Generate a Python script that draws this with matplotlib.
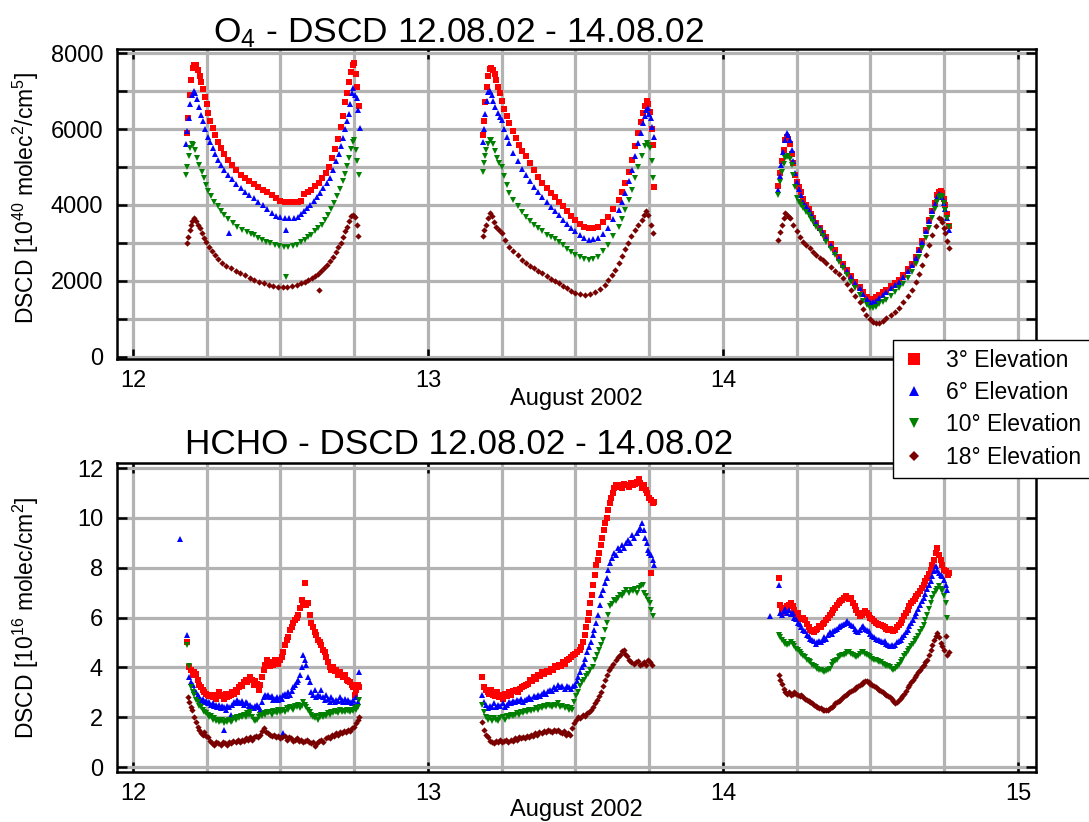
import numpy as np
import matplotlib.pyplot as plt
from matplotlib.lines import Line2D
from matplotlib.ticker import MultipleLocator, NullLocator

plt.rcParams['font.family'] = ['Liberation Sans', 'DejaVu Sans']
plt.rcParams['mathtext.default'] = 'regular'

labels = ['3° Elevation', '6° Elevation', '10° Elevation', '18° Elevation']
colors = ['#ff0000', '#0000ff', '#008000', '#7a0000']
markers = ['s', '^', 'v', 'D']
day_ticks = [12, 13, 14, 15]

# O4 DSCD, (day of August 2002, 1e40 molec^2/cm^5)
o4_3deg = [
    (12.183, 5900), (12.188, 6300), (12.193, 6900), (12.198, 7300), (12.203, 7600), (12.208, 7700),
    (12.214, 7680), (12.220, 7550), (12.226, 7400), (12.232, 7250), (12.238, 7050), (12.244, 6850),
    (12.250, 6650), (12.256, 6420), (12.263, 6200), (12.270, 6020), (12.278, 5850), (12.287, 5670),
    (12.297, 5500), (12.309, 5350), (12.321, 5190), (12.335, 5050), (12.350, 4920), (12.365, 4790),
    (12.380, 4700), (12.395, 4620), (12.410, 4550), (12.425, 4480), (12.440, 4400), (12.455, 4330),
    (12.470, 4260), (12.485, 4190), (12.500, 4110), (12.515, 4080), (12.530, 4070), (12.545, 4070),
    (12.558, 4080), (12.570, 4100), (12.580, 4300), (12.592, 4330), (12.605, 4400), (12.618, 4500),
    (12.630, 4580), (12.642, 4700), (12.654, 4850), (12.665, 5000), (12.676, 5250), (12.686, 5480),
    (12.695, 5750), (12.704, 6050), (12.712, 6350), (12.720, 6700), (12.727, 6950), (12.734, 7250),
    (12.740, 7500), (12.745, 7700), (12.750, 7750), (12.755, 7450), (12.760, 7100), (12.765, 6600),
    (13.186, 5850), (13.190, 6200), (13.195, 6700), (13.200, 7100), (13.205, 7400), (13.210, 7580),
    (13.215, 7620), (13.220, 7560), (13.226, 7450), (13.232, 7300), (13.238, 7120), (13.244, 6950),
    (13.250, 6750), (13.258, 6530), (13.267, 6340), (13.276, 6160), (13.287, 5950), (13.298, 5760),
    (13.309, 5580), (13.320, 5420), (13.332, 5280), (13.346, 5100), (13.360, 4920), (13.374, 4740),
    (13.388, 4570), (13.402, 4440), (13.416, 4320), (13.430, 4200), (13.444, 4090), (13.458, 3960),
    (13.472, 3840), (13.486, 3720), (13.500, 3600), (13.515, 3500), (13.530, 3430), (13.545, 3390),
    (13.561, 3400), (13.578, 3430), (13.595, 3540), (13.612, 3690), (13.629, 3900), (13.646, 4130),
    (13.657, 4340), (13.668, 4570), (13.680, 4880), (13.691, 5190), (13.702, 5540), (13.713, 5890),
    (13.722, 6180), (13.730, 6420), (13.736, 6600), (13.741, 6730), (13.747, 6650), (13.752, 6460),
    (13.758, 6000), (13.763, 5580), (13.765, 4480),
    (14.188, 4500), (14.194, 4850), (14.200, 5150), (14.206, 5450), (14.211, 5700), (14.216, 5800),
    (14.222, 5750), (14.228, 5600), (14.234, 5350), (14.239, 5100), (14.245, 4800), (14.251, 4600),
    (14.258, 4480), (14.265, 4350), (14.272, 4150), (14.281, 4000), (14.290, 3880), (14.298, 3760),
    (14.306, 3650), (14.317, 3530), (14.328, 3400), (14.340, 3270), (14.351, 3150), (14.365, 2980),
    (14.379, 2800), (14.393, 2620), (14.407, 2450), (14.421, 2290), (14.435, 2130), (14.449, 1980),
    (14.463, 1830), (14.475, 1700), (14.488, 1580), (14.500, 1520), (14.510, 1530), (14.519, 1570),
    (14.530, 1630), (14.541, 1700), (14.553, 1760), (14.568, 1860), (14.583, 1950), (14.598, 2030),
    (14.612, 2150), (14.627, 2300), (14.642, 2450), (14.653, 2620), (14.665, 2820), (14.676, 3050),
    (14.687, 3330), (14.699, 3600), (14.710, 3850), (14.718, 4050), (14.726, 4250), (14.732, 4350),
    (14.738, 4380), (14.743, 4320), (14.749, 4150), (14.754, 4000), (14.760, 3750), (14.766, 3450),
]

o4_6deg = [
    (12.180, 5600), (12.185, 5950), (12.190, 6300), (12.195, 6650), (12.200, 6900), (12.206, 7000),
    (12.212, 6950), (12.218, 6780), (12.224, 6580), (12.231, 6380), (12.238, 6200), (12.245, 6000),
    (12.253, 5800), (12.261, 5650), (12.270, 5500), (12.278, 5340), (12.287, 5190), (12.298, 5050),
    (12.310, 4920), (12.321, 4790), (12.335, 4680), (12.350, 4560), (12.365, 4440), (12.380, 4350),
    (12.395, 4260), (12.410, 4170), (12.425, 4080), (12.440, 3990), (12.455, 3900), (12.470, 3800),
    (12.485, 3720), (12.500, 3670), (12.515, 3650), (12.530, 3650), (12.545, 3660), (12.558, 3690),
    (12.570, 3760), (12.580, 3840), (12.590, 3910), (12.602, 4010), (12.614, 4110), (12.625, 4210),
    (12.635, 4310), (12.646, 4440), (12.657, 4570), (12.668, 4700), (12.679, 4920), (12.690, 5150),
    (12.698, 5350), (12.706, 5560), (12.713, 5760), (12.720, 6000), (12.726, 6200), (12.731, 6400),
    (12.736, 6650), (12.741, 6950), (12.747, 7080), (12.753, 6900), (12.758, 6820), (12.763, 6500),
    (12.769, 6020), (12.325, 3250), (12.520, 3350),
    (13.186, 5650), (13.190, 6000), (13.195, 6400), (13.200, 6750), (13.205, 6980), (13.210, 7000),
    (13.216, 6900), (13.222, 6750), (13.229, 6570), (13.236, 6420), (13.243, 6320), (13.250, 6240),
    (13.258, 6000), (13.267, 5800), (13.276, 5630), (13.290, 5380), (13.304, 5150), (13.318, 4960),
    (13.332, 4790), (13.346, 4630), (13.360, 4480), (13.374, 4340), (13.388, 4220), (13.402, 4080),
    (13.416, 3950), (13.430, 3840), (13.444, 3740), (13.458, 3610), (13.472, 3490), (13.486, 3390),
    (13.500, 3300), (13.515, 3220), (13.530, 3140), (13.545, 3080), (13.561, 3090), (13.578, 3120),
    (13.595, 3240), (13.612, 3390), (13.629, 3620), (13.646, 3870), (13.657, 4080), (13.668, 4310),
    (13.680, 4620), (13.691, 4930), (13.702, 5280), (13.713, 5630), (13.722, 5900), (13.730, 6160),
    (13.735, 6350), (13.740, 6510), (13.745, 6550), (13.750, 6400), (13.755, 6300), (13.760, 6050),
    (13.765, 5800),
    (14.186, 4400), (14.192, 4750), (14.198, 5050), (14.204, 5400), (14.210, 5700), (14.216, 5900),
    (14.222, 5850), (14.228, 5720), (14.234, 5450), (14.239, 5150), (14.245, 4850), (14.251, 4600),
    (14.258, 4420), (14.265, 4250), (14.272, 4090), (14.281, 3970), (14.290, 3860), (14.298, 3750),
    (14.306, 3650), (14.317, 3530), (14.328, 3400), (14.340, 3260), (14.351, 3120), (14.365, 2940),
    (14.379, 2770), (14.393, 2600), (14.407, 2420), (14.421, 2260), (14.435, 2100), (14.449, 1950),
    (14.463, 1800), (14.475, 1660), (14.488, 1520), (14.500, 1440), (14.510, 1430), (14.519, 1470),
    (14.530, 1540), (14.541, 1620), (14.553, 1700), (14.568, 1800), (14.583, 1900), (14.598, 1980),
    (14.612, 2100), (14.627, 2250), (14.642, 2420), (14.653, 2600), (14.665, 2800), (14.676, 3030),
    (14.687, 3300), (14.699, 3570), (14.710, 3830), (14.718, 4020), (14.726, 4200), (14.732, 4300),
    (14.738, 4260), (14.743, 4200), (14.749, 4050), (14.754, 3900), (14.760, 3650), (14.766, 3350),
]

o4_10deg = [
    (12.180, 4800), (12.184, 5000), (12.189, 5300), (12.194, 5500), (12.199, 5600), (12.205, 5580),
    (12.211, 5450), (12.218, 5250), (12.225, 5050), (12.233, 4870), (12.241, 4700), (12.248, 4530),
    (12.256, 4380), (12.266, 4230), (12.276, 4090), (12.287, 3970), (12.298, 3850), (12.309, 3740),
    (12.323, 3630), (12.338, 3530), (12.354, 3430), (12.370, 3350), (12.386, 3280), (12.400, 3230),
    (12.412, 3200), (12.424, 3140), (12.438, 3080), (12.452, 3030), (12.466, 2990), (12.480, 2950),
    (12.495, 2910), (12.511, 2890), (12.527, 2890), (12.542, 2910), (12.556, 2950), (12.570, 3010),
    (12.582, 3080), (12.594, 3150), (12.605, 3220), (12.617, 3300), (12.628, 3380), (12.640, 3480),
    (12.652, 3600), (12.663, 3740), (12.673, 3890), (12.683, 4060), (12.693, 4240), (12.702, 4420),
    (12.711, 4620), (12.719, 4820), (12.727, 5030), (12.734, 5250), (12.740, 5480), (12.746, 5650),
    (12.751, 5700), (12.756, 5450), (12.761, 5150), (12.766, 4800), (12.520, 2100),
    (13.186, 4880), (13.190, 5100), (13.194, 5300), (13.198, 5450), (13.203, 5600), (13.209, 5700),
    (13.214, 5720), (13.220, 5600), (13.227, 5420), (13.234, 5250), (13.242, 5100), (13.250, 5010),
    (13.259, 4750), (13.267, 4530), (13.276, 4310), (13.290, 4120), (13.304, 3960), (13.318, 3820),
    (13.332, 3690), (13.346, 3580), (13.360, 3470), (13.374, 3380), (13.388, 3300), (13.402, 3220),
    (13.416, 3160), (13.430, 3090), (13.444, 3030), (13.458, 2940), (13.472, 2850), (13.486, 2760),
    (13.500, 2680), (13.515, 2620), (13.530, 2570), (13.545, 2550), (13.561, 2580), (13.578, 2640),
    (13.595, 2780), (13.612, 2950), (13.629, 3180), (13.646, 3430), (13.657, 3640), (13.668, 3870),
    (13.680, 4140), (13.691, 4400), (13.702, 4700), (13.713, 5010), (13.724, 5280), (13.735, 5540),
    (13.741, 5630), (13.747, 5580), (13.752, 5500), (13.758, 5150), (13.763, 4710),
    (14.188, 4270), (14.194, 4600), (14.200, 4880), (14.206, 5080), (14.211, 5230), (14.216, 5260),
    (14.222, 5280), (14.228, 5200), (14.233, 5060), (14.239, 4800), (14.245, 4480), (14.250, 4180),
    (14.258, 4080), (14.265, 4000), (14.272, 3910), (14.281, 3820), (14.290, 3730), (14.298, 3640),
    (14.306, 3560), (14.317, 3430), (14.328, 3300), (14.340, 3170), (14.351, 3030), (14.365, 2850),
    (14.379, 2680), (14.393, 2500), (14.407, 2330), (14.421, 2150), (14.435, 1980), (14.449, 1800),
    (14.463, 1630), (14.475, 1480), (14.488, 1360), (14.500, 1280), (14.510, 1290), (14.519, 1320),
    (14.530, 1380), (14.541, 1440), (14.553, 1500), (14.568, 1610), (14.583, 1700), (14.598, 1800),
    (14.612, 1920), (14.627, 2070), (14.642, 2240), (14.653, 2430), (14.665, 2640), (14.676, 2860),
    (14.687, 3130), (14.699, 3400), (14.710, 3650), (14.718, 3880), (14.726, 4080), (14.732, 4200),
    (14.738, 4230), (14.743, 4220), (14.749, 4050), (14.754, 3870), (14.760, 3650), (14.766, 3430),
]

o4_18deg = [
    (12.183, 3000), (12.187, 3150), (12.192, 3350), (12.197, 3470), (12.202, 3580), (12.208, 3650),
    (12.214, 3580), (12.220, 3480), (12.226, 3380), (12.233, 3270), (12.241, 3140), (12.249, 3020),
    (12.258, 2900), (12.268, 2790), (12.278, 2690), (12.290, 2570), (12.303, 2480), (12.317, 2400),
    (12.332, 2330), (12.348, 2260), (12.364, 2200), (12.380, 2140), (12.396, 2080), (12.412, 2030),
    (12.428, 1980), (12.444, 1930), (12.460, 1900), (12.476, 1870), (12.492, 1850), (12.508, 1840),
    (12.524, 1840), (12.540, 1860), (12.556, 1890), (12.570, 1930), (12.582, 1970), (12.594, 2010),
    (12.606, 2070), (12.618, 2130), (12.628, 2190), (12.638, 2260), (12.648, 2330), (12.658, 2420),
    (12.668, 2510), (12.678, 2630), (12.687, 2760), (12.696, 2880), (12.704, 3000), (12.712, 3160),
    (12.719, 3300), (12.726, 3430), (12.733, 3580), (12.740, 3720), (12.746, 3740), (12.752, 3690),
    (12.758, 3470), (12.763, 3170), (12.630, 1750),
    (13.186, 3170), (13.191, 3330), (13.197, 3470), (13.204, 3650), (13.211, 3780), (13.217, 3700),
    (13.224, 3560), (13.231, 3420), (13.240, 3330), (13.250, 3250), (13.262, 3080), (13.276, 2900),
    (13.290, 2780), (13.304, 2670), (13.318, 2560), (13.332, 2460), (13.346, 2390), (13.360, 2330),
    (13.374, 2270), (13.388, 2200), (13.402, 2130), (13.416, 2060), (13.430, 2000), (13.444, 1930),
    (13.458, 1860), (13.472, 1800), (13.486, 1730), (13.500, 1670), (13.517, 1640), (13.534, 1630),
    (13.550, 1650), (13.567, 1700), (13.584, 1780), (13.601, 1900), (13.612, 2020), (13.624, 2140),
    (13.635, 2280), (13.646, 2460), (13.657, 2660), (13.668, 2850), (13.679, 3000), (13.690, 3180),
    (13.702, 3330), (13.713, 3470), (13.724, 3610), (13.731, 3740), (13.738, 3830), (13.747, 3740),
    (13.756, 3470), (13.763, 3250),
    (14.188, 3080), (14.194, 3280), (14.200, 3470), (14.206, 3650), (14.211, 3780), (14.217, 3730),
    (14.223, 3690), (14.228, 3650), (14.239, 3480), (14.250, 3300), (14.261, 3160), (14.272, 3030),
    (14.283, 2940), (14.295, 2860), (14.306, 2770), (14.317, 2690), (14.328, 2610), (14.340, 2540),
    (14.351, 2460), (14.365, 2360), (14.379, 2260), (14.393, 2170), (14.407, 2070), (14.421, 1920),
    (14.435, 1770), (14.449, 1610), (14.463, 1450), (14.475, 1270), (14.486, 1100), (14.497, 990),
    (14.508, 920), (14.519, 890), (14.530, 880), (14.541, 940), (14.553, 1010), (14.568, 1100),
    (14.583, 1190), (14.598, 1280), (14.612, 1430), (14.627, 1590), (14.642, 1760), (14.653, 1970),
    (14.665, 2190), (14.676, 2420), (14.687, 2680), (14.699, 2950), (14.710, 3210), (14.721, 3450),
    (14.732, 3650), (14.738, 3620), (14.743, 3560), (14.749, 3400), (14.754, 3250), (14.760, 3050),
    (14.766, 2860),
]

# HCHO DSCD, (day of August 2002, 1e16 molec/cm^2)
hcho_3deg = [
    (12.185, 5.0), (12.190, 4.0), (12.197, 3.9), (12.203, 3.7), (12.208, 3.8), (12.214, 3.75),
    (12.219, 3.5), (12.225, 3.3), (12.231, 3.2), (12.236, 3.1), (12.242, 3.0), (12.248, 2.95),
    (12.253, 2.9), (12.259, 2.85), (12.264, 2.9), (12.270, 2.8), (12.275, 2.85), (12.281, 2.75),
    (12.286, 2.9), (12.292, 3.0), (12.297, 2.85), (12.303, 2.9), (12.309, 2.75), (12.314, 2.95),
    (12.320, 2.8), (12.326, 2.85), (12.331, 2.9), (12.337, 3.0), (12.343, 2.95), (12.348, 3.1),
    (12.354, 3.0), (12.360, 3.2), (12.365, 3.3), (12.371, 3.25), (12.376, 3.4), (12.382, 3.5),
    (12.387, 3.4), (12.393, 3.5), (12.398, 3.6), (12.404, 3.5), (12.410, 3.3), (12.415, 3.45),
    (12.421, 3.35), (12.426, 3.1), (12.432, 3.3), (12.437, 3.6), (12.443, 3.9), (12.448, 4.1),
    (12.454, 4.3), (12.459, 4.2), (12.465, 4.05), (12.470, 4.2), (12.476, 4.1), (12.482, 4.3),
    (12.487, 4.2), (12.493, 4.15), (12.499, 4.3), (12.504, 4.4), (12.510, 4.6), (12.516, 4.9),
    (12.521, 5.1), (12.527, 5.2), (12.533, 5.5), (12.538, 5.6), (12.544, 5.8), (12.550, 5.9),
    (12.556, 6.0), (12.561, 6.1), (12.567, 6.4), (12.572, 6.7), (12.577, 6.6), (12.583, 7.4),
    (12.588, 6.5), (12.594, 6.6), (12.600, 6.1), (12.605, 5.8), (12.611, 5.6), (12.617, 5.4),
    (12.622, 5.3), (12.628, 5.1), (12.634, 5.0), (12.639, 4.9), (12.645, 4.7), (12.651, 4.6),
    (12.656, 4.4), (12.662, 4.2), (12.668, 4.0), (12.673, 3.9), (12.679, 4.0), (12.685, 3.85),
    (12.690, 3.9), (12.696, 3.7), (12.702, 3.8), (12.708, 3.7), (12.713, 3.6), (12.719, 3.7),
    (12.725, 3.5), (12.730, 3.45), (12.736, 3.4), (12.742, 3.3), (12.747, 3.2), (12.752, 2.9),
    (12.757, 3.1), (12.763, 3.3), (12.768, 3.2),
    (13.185, 3.6), (13.190, 3.2), (13.196, 3.1), (13.202, 3.0), (13.208, 2.95), (13.214, 3.1),
    (13.220, 2.9), (13.227, 2.85), (13.234, 3.0), (13.241, 2.8), (13.248, 2.9), (13.255, 2.75),
    (13.262, 2.95), (13.269, 2.85), (13.276, 3.0), (13.283, 2.9), (13.290, 3.05), (13.297, 3.1),
    (13.304, 3.0), (13.311, 3.15), (13.318, 3.2), (13.325, 3.25), (13.332, 3.3), (13.339, 3.35),
    (13.346, 3.5), (13.353, 3.45), (13.360, 3.6), (13.367, 3.55), (13.374, 3.7), (13.381, 3.65),
    (13.388, 3.8), (13.395, 3.75), (13.402, 3.85), (13.409, 3.8), (13.416, 3.95), (13.423, 3.9),
    (13.430, 4.05), (13.437, 4.0), (13.444, 4.1), (13.451, 4.05), (13.458, 4.2), (13.465, 4.15),
    (13.472, 4.3), (13.479, 4.35), (13.486, 4.4), (13.493, 4.5), (13.500, 4.55), (13.507, 4.6),
    (13.514, 4.7), (13.520, 4.8), (13.526, 5.0), (13.531, 5.3), (13.536, 5.6), (13.541, 5.9),
    (13.546, 6.2), (13.551, 6.6), (13.556, 6.9), (13.561, 7.3), (13.566, 7.7), (13.571, 8.1),
    (13.576, 8.3), (13.581, 8.6), (13.586, 8.9), (13.591, 9.2), (13.596, 9.5), (13.601, 9.8),
    (13.606, 10.0), (13.611, 10.3), (13.616, 10.6), (13.621, 10.8), (13.626, 11.0), (13.632, 11.2),
    (13.638, 11.3), (13.645, 11.25), (13.652, 11.3), (13.659, 11.2), (13.666, 11.35), (13.673, 11.3),
    (13.680, 11.25), (13.687, 11.4), (13.694, 11.3), (13.701, 11.35), (13.708, 11.45), (13.714, 11.55),
    (13.720, 11.4), (13.726, 11.2), (13.732, 11.3), (13.738, 11.1), (13.744, 11.0), (13.750, 10.8),
    (13.756, 10.7), (13.762, 10.6), (13.768, 10.65), (13.757, 7.8),
    (14.189, 7.6), (14.194, 6.5), (14.200, 6.3), (14.206, 6.2), (14.212, 6.4), (14.218, 6.45),
    (14.224, 6.5), (14.230, 6.6), (14.236, 6.45), (14.242, 6.3), (14.248, 6.1), (14.254, 6.2),
    (14.260, 6.0), (14.266, 5.95), (14.272, 6.0), (14.278, 5.9), (14.284, 5.75), (14.290, 5.6),
    (14.296, 5.5), (14.302, 5.45), (14.308, 5.4), (14.314, 5.5), (14.320, 5.55), (14.326, 5.65),
    (14.332, 5.6), (14.338, 5.75), (14.344, 5.8), (14.350, 5.9), (14.356, 6.0), (14.362, 6.1),
    (14.368, 6.2), (14.374, 6.3), (14.380, 6.4), (14.386, 6.5), (14.392, 6.6), (14.398, 6.65),
    (14.404, 6.7), (14.410, 6.8), (14.416, 6.85), (14.422, 6.8), (14.428, 6.75), (14.434, 6.8),
    (14.440, 6.6), (14.446, 6.45), (14.452, 6.3), (14.458, 6.2), (14.464, 6.05), (14.470, 6.1),
    (14.476, 6.2), (14.482, 6.25), (14.488, 6.2), (14.494, 6.1), (14.500, 6.0), (14.506, 5.95),
    (14.512, 5.85), (14.518, 5.8), (14.524, 5.75), (14.530, 5.7), (14.536, 5.7), (14.542, 5.65),
    (14.548, 5.6), (14.554, 5.55), (14.560, 5.5), (14.566, 5.55), (14.572, 5.5), (14.578, 5.45),
    (14.584, 5.5), (14.590, 5.6), (14.596, 5.7), (14.602, 5.8), (14.608, 5.9), (14.614, 6.05),
    (14.620, 6.2), (14.626, 6.3), (14.632, 6.45), (14.638, 6.6), (14.644, 6.65), (14.650, 6.75),
    (14.656, 6.85), (14.662, 6.95), (14.668, 7.05), (14.674, 7.2), (14.680, 7.3), (14.686, 7.45),
    (14.692, 7.6), (14.698, 7.75), (14.704, 7.9), (14.710, 8.1), (14.716, 8.3), (14.722, 8.6),
    (14.727, 8.8), (14.732, 8.5), (14.738, 8.3), (14.744, 8.1), (14.750, 7.9), (14.756, 7.85),
    (14.762, 7.7), (14.767, 7.8),
]

hcho_6deg = [
    (12.158, 9.15), (12.185, 5.3), (12.190, 3.6), (12.197, 3.4), (12.203, 3.3), (12.208, 3.1),
    (12.214, 3.0), (12.219, 2.9), (12.225, 2.8), (12.231, 2.7), (12.236, 2.75), (12.242, 2.6),
    (12.248, 2.65), (12.253, 2.55), (12.259, 2.6), (12.264, 2.5), (12.270, 2.55), (12.275, 2.45),
    (12.281, 2.5), (12.286, 2.4), (12.292, 2.5), (12.297, 2.35), (12.303, 2.45), (12.309, 2.4),
    (12.314, 2.3), (12.320, 2.45), (12.326, 2.4), (12.331, 2.1), (12.337, 2.5), (12.343, 2.6),
    (12.348, 2.55), (12.354, 2.7), (12.360, 2.6), (12.365, 2.55), (12.371, 2.65), (12.376, 2.5),
    (12.382, 2.6), (12.387, 2.55), (12.393, 2.45), (12.398, 2.5), (12.404, 2.4), (12.410, 2.35),
    (12.415, 2.45), (12.421, 2.5), (12.426, 2.4), (12.432, 2.3), (12.437, 2.6), (12.443, 2.8),
    (12.448, 2.9), (12.454, 2.85), (12.459, 2.9), (12.465, 2.8), (12.470, 2.85), (12.476, 2.7),
    (12.482, 2.75), (12.487, 2.8), (12.493, 2.7), (12.499, 2.8), (12.504, 2.75), (12.510, 2.9),
    (12.516, 2.95), (12.521, 2.85), (12.527, 3.0), (12.533, 2.9), (12.538, 3.05), (12.544, 3.2),
    (12.550, 3.3), (12.556, 3.4), (12.561, 3.5), (12.567, 3.7), (12.572, 4.0), (12.577, 4.5),
    (12.583, 4.3), (12.588, 4.1), (12.594, 3.6), (12.600, 3.4), (12.605, 3.0), (12.611, 2.9),
    (12.617, 3.1), (12.622, 2.8), (12.628, 2.9), (12.634, 2.85), (12.639, 3.1), (12.645, 2.8),
    (12.651, 2.7), (12.656, 2.9), (12.662, 2.75), (12.668, 2.6), (12.673, 2.8), (12.679, 2.7),
    (12.685, 2.6), (12.690, 2.7), (12.696, 2.65), (12.702, 2.8), (12.708, 2.7), (12.713, 2.6),
    (12.719, 2.75), (12.725, 2.6), (12.730, 2.7), (12.736, 2.6), (12.742, 2.55), (12.747, 2.7),
    (12.752, 2.5), (12.757, 2.8), (12.763, 2.6), (12.768, 3.8), (12.310, 1.5), (12.510, 1.36),
    (13.185, 2.9), (13.191, 2.6), (13.197, 2.5), (13.204, 2.35), (13.211, 2.45), (13.218, 2.4),
    (13.225, 2.55), (13.232, 2.4), (13.239, 2.5), (13.246, 2.45), (13.253, 2.55), (13.260, 2.4),
    (13.267, 2.5), (13.274, 2.6), (13.281, 2.55), (13.288, 2.65), (13.295, 2.6), (13.302, 2.7),
    (13.309, 2.65), (13.316, 2.75), (13.323, 2.6), (13.330, 2.7), (13.337, 2.75), (13.344, 2.8),
    (13.351, 2.75), (13.358, 2.85), (13.365, 2.8), (13.372, 2.9), (13.379, 2.85), (13.386, 2.95),
    (13.393, 3.0), (13.400, 2.95), (13.407, 3.05), (13.414, 3.1), (13.421, 3.05), (13.428, 3.2),
    (13.435, 3.15), (13.442, 3.3), (13.449, 3.2), (13.456, 3.25), (13.463, 3.15), (13.470, 3.25),
    (13.477, 3.2), (13.484, 3.15), (13.491, 3.25), (13.498, 3.3), (13.504, 3.45), (13.510, 3.6),
    (13.516, 3.8), (13.522, 4.0), (13.528, 4.15), (13.534, 4.35), (13.540, 4.6), (13.546, 4.8),
    (13.552, 5.0), (13.558, 5.3), (13.564, 5.5), (13.570, 5.8), (13.576, 6.1), (13.582, 6.5),
    (13.588, 6.9), (13.594, 7.1), (13.600, 7.4), (13.606, 7.6), (13.612, 7.9), (13.618, 8.2),
    (13.624, 8.4), (13.630, 8.6), (13.637, 8.5), (13.644, 8.8), (13.651, 8.7), (13.658, 8.9),
    (13.665, 8.8), (13.672, 9.0), (13.679, 9.1), (13.686, 9.0), (13.693, 9.3), (13.700, 9.2),
    (13.707, 9.4), (13.714, 9.5), (13.720, 9.6), (13.726, 9.8), (13.731, 9.5), (13.736, 9.2),
    (13.741, 9.0), (13.746, 8.7), (13.751, 8.6), (13.757, 8.5), (13.762, 8.3), (13.766, 8.1),
    (14.161, 6.05), (14.189, 7.3), (14.194, 6.2), (14.200, 6.1), (14.206, 6.25), (14.212, 6.35),
    (14.218, 6.2), (14.224, 6.3), (14.230, 6.15), (14.236, 6.2), (14.242, 6.0), (14.248, 5.95),
    (14.254, 5.8), (14.260, 5.75), (14.266, 5.6), (14.272, 5.5), (14.278, 5.45), (14.284, 5.3),
    (14.290, 5.25), (14.296, 5.15), (14.302, 5.1), (14.308, 5.05), (14.314, 4.95), (14.320, 5.0),
    (14.326, 5.05), (14.332, 5.0), (14.338, 5.1), (14.344, 5.2), (14.350, 5.15), (14.356, 5.3),
    (14.362, 5.4), (14.368, 5.35), (14.374, 5.45), (14.380, 5.5), (14.386, 5.55), (14.392, 5.6),
    (14.398, 5.65), (14.404, 5.7), (14.410, 5.75), (14.416, 5.8), (14.422, 5.85), (14.428, 5.8),
    (14.434, 5.7), (14.440, 5.65), (14.446, 5.55), (14.452, 5.45), (14.458, 5.4), (14.464, 5.5),
    (14.470, 5.6), (14.476, 5.65), (14.482, 5.55), (14.488, 5.5), (14.494, 5.45), (14.500, 5.35),
    (14.506, 5.25), (14.512, 5.2), (14.518, 5.15), (14.524, 5.1), (14.530, 5.1), (14.536, 5.05),
    (14.542, 5.0), (14.548, 5.05), (14.554, 4.95), (14.560, 4.9), (14.566, 4.85), (14.572, 4.9),
    (14.578, 4.85), (14.584, 4.9), (14.590, 5.0), (14.596, 5.05), (14.602, 5.1), (14.608, 5.2),
    (14.614, 5.3), (14.620, 5.4), (14.626, 5.5), (14.632, 5.65), (14.638, 5.8), (14.644, 5.9),
    (14.650, 6.05), (14.656, 6.2), (14.662, 6.35), (14.668, 6.5), (14.674, 6.65), (14.680, 6.8),
    (14.686, 6.95), (14.692, 7.15), (14.698, 7.3), (14.704, 7.45), (14.710, 7.65), (14.716, 7.85),
    (14.721, 8.05), (14.727, 7.9), (14.732, 7.8), (14.738, 7.7), (14.744, 7.65), (14.750, 7.5),
    (14.755, 7.3), (14.761, 7.1),
]

hcho_10deg = [
    (12.185, 4.9), (12.190, 4.05), (12.197, 3.2), (12.203, 3.0), (12.208, 2.9), (12.214, 2.7),
    (12.219, 2.6), (12.225, 2.45), (12.231, 2.4), (12.236, 2.3), (12.242, 2.2), (12.248, 2.15),
    (12.253, 2.1), (12.259, 2.0), (12.264, 2.05), (12.270, 1.9), (12.275, 1.95), (12.281, 1.85),
    (12.286, 1.9), (12.292, 1.8), (12.297, 1.85), (12.303, 1.9), (12.309, 1.75), (12.314, 1.85),
    (12.320, 1.8), (12.326, 1.9), (12.331, 1.8), (12.337, 1.85), (12.343, 1.95), (12.348, 1.9),
    (12.354, 2.0), (12.360, 1.95), (12.365, 2.05), (12.371, 2.0), (12.376, 2.1), (12.382, 2.0),
    (12.387, 2.15), (12.393, 2.1), (12.398, 2.2), (12.404, 2.0), (12.410, 1.9), (12.415, 1.85),
    (12.421, 1.9), (12.426, 2.0), (12.432, 2.1), (12.437, 2.05), (12.443, 2.15), (12.448, 2.1),
    (12.454, 2.2), (12.459, 2.15), (12.465, 2.2), (12.470, 2.1), (12.476, 2.25), (12.482, 2.2),
    (12.487, 2.15), (12.493, 2.3), (12.499, 2.2), (12.504, 2.25), (12.510, 2.3), (12.516, 2.2),
    (12.521, 2.35), (12.527, 2.3), (12.533, 2.4), (12.538, 2.35), (12.544, 2.3), (12.550, 2.45),
    (12.556, 2.4), (12.561, 2.5), (12.567, 2.35), (12.572, 2.45), (12.577, 2.6), (12.583, 2.5),
    (12.588, 2.4), (12.594, 2.3), (12.600, 2.2), (12.605, 2.1), (12.611, 2.0), (12.617, 1.95),
    (12.622, 2.05), (12.628, 1.9), (12.634, 2.0), (12.639, 2.1), (12.645, 2.0), (12.651, 2.1),
    (12.656, 2.05), (12.662, 2.15), (12.668, 2.1), (12.673, 2.2), (12.679, 2.15), (12.685, 2.25),
    (12.690, 2.2), (12.696, 2.15), (12.702, 2.3), (12.708, 2.2), (12.713, 2.25), (12.719, 2.2),
    (12.725, 2.3), (12.730, 2.25), (12.736, 2.2), (12.742, 2.3), (12.747, 2.25), (12.752, 2.35),
    (12.757, 2.3), (12.763, 2.4), (12.768, 2.7),
    (13.185, 2.5), (13.191, 2.2), (13.197, 2.0), (13.204, 1.9), (13.211, 1.95), (13.218, 1.85),
    (13.225, 1.95), (13.232, 1.9), (13.239, 1.85), (13.246, 1.95), (13.253, 2.0), (13.260, 1.9),
    (13.267, 2.05), (13.274, 2.0), (13.281, 2.1), (13.288, 2.05), (13.295, 2.1), (13.302, 2.15),
    (13.309, 2.1), (13.316, 2.2), (13.323, 2.15), (13.330, 2.25), (13.337, 2.2), (13.344, 2.3),
    (13.351, 2.25), (13.358, 2.3), (13.365, 2.35), (13.372, 2.3), (13.379, 2.4), (13.386, 2.35),
    (13.393, 2.45), (13.400, 2.4), (13.407, 2.5), (13.414, 2.45), (13.421, 2.4), (13.428, 2.5),
    (13.435, 2.45), (13.442, 2.55), (13.449, 2.4), (13.456, 2.45), (13.463, 2.35), (13.470, 2.4),
    (13.477, 2.3), (13.484, 2.35), (13.490, 2.3), (13.496, 2.6), (13.502, 2.85), (13.509, 3.0),
    (13.516, 3.25), (13.523, 3.4), (13.530, 3.5), (13.537, 3.65), (13.544, 3.75), (13.551, 3.9),
    (13.558, 4.0), (13.565, 4.3), (13.572, 4.5), (13.579, 4.7), (13.586, 4.9), (13.593, 5.1),
    (13.600, 5.5), (13.606, 5.8), (13.612, 6.1), (13.617, 6.45), (13.624, 6.55), (13.631, 6.7),
    (13.638, 6.65), (13.645, 6.8), (13.652, 6.9), (13.659, 6.85), (13.666, 7.0), (13.673, 7.1),
    (13.680, 7.0), (13.687, 7.1), (13.694, 7.05), (13.701, 7.15), (13.708, 7.0), (13.715, 7.2),
    (13.722, 7.25), (13.728, 7.3), (13.734, 7.0), (13.740, 6.85), (13.746, 6.7), (13.752, 6.6),
    (13.757, 6.3), (13.762, 6.05),
    (14.189, 5.3), (14.194, 5.2), (14.200, 5.1), (14.206, 5.0), (14.212, 4.95), (14.218, 4.9),
    (14.224, 4.95), (14.230, 5.0), (14.236, 4.95), (14.242, 4.85), (14.248, 4.75), (14.254, 4.7),
    (14.260, 4.6), (14.266, 4.55), (14.272, 4.45), (14.278, 4.4), (14.284, 4.3), (14.290, 4.25),
    (14.296, 4.2), (14.302, 4.1), (14.308, 4.05), (14.314, 4.0), (14.320, 3.95), (14.326, 3.9),
    (14.332, 3.9), (14.338, 3.85), (14.344, 3.8), (14.350, 3.85), (14.356, 3.9), (14.362, 3.95),
    (14.368, 4.1), (14.374, 4.2), (14.380, 4.25), (14.386, 4.3), (14.392, 4.4), (14.398, 4.45),
    (14.404, 4.5), (14.410, 4.5), (14.416, 4.55), (14.422, 4.6), (14.428, 4.6), (14.434, 4.55),
    (14.440, 4.5), (14.446, 4.45), (14.452, 4.4), (14.458, 4.45), (14.464, 4.55), (14.470, 4.6),
    (14.476, 4.6), (14.482, 4.55), (14.488, 4.5), (14.494, 4.45), (14.500, 4.4), (14.506, 4.35),
    (14.512, 4.3), (14.518, 4.3), (14.524, 4.25), (14.530, 4.2), (14.536, 4.2), (14.542, 4.15),
    (14.548, 4.1), (14.554, 4.05), (14.560, 4.05), (14.566, 4.0), (14.572, 3.95), (14.578, 3.9),
    (14.584, 3.95), (14.590, 4.0), (14.596, 4.1), (14.602, 4.2), (14.608, 4.3), (14.614, 4.45),
    (14.620, 4.55), (14.626, 4.65), (14.632, 4.75), (14.638, 4.85), (14.644, 4.95), (14.650, 5.05),
    (14.656, 5.15), (14.662, 5.25), (14.668, 5.4), (14.674, 5.55), (14.680, 5.7), (14.686, 5.9),
    (14.692, 6.1), (14.698, 6.35), (14.704, 6.6), (14.710, 6.8), (14.716, 6.95), (14.721, 7.05),
    (14.727, 7.15), (14.732, 7.25), (14.738, 7.15), (14.744, 7.05), (14.750, 6.85), (14.755, 6.6),
    (14.761, 6.0),
]

hcho_18deg = [
    (12.186, 2.8), (12.191, 2.6), (12.197, 2.4), (12.202, 2.3), (12.208, 2.0), (12.213, 1.8),
    (12.219, 1.6), (12.225, 1.5), (12.230, 1.35), (12.236, 1.3), (12.242, 1.4), (12.247, 1.25),
    (12.253, 1.2), (12.260, 1.05), (12.268, 0.95), (12.275, 0.9), (12.283, 1.0), (12.290, 0.95),
    (12.297, 0.9), (12.305, 1.0), (12.312, 0.95), (12.320, 0.9), (12.327, 1.0), (12.334, 0.95),
    (12.341, 1.05), (12.348, 1.0), (12.355, 1.1), (12.362, 1.0), (12.369, 1.1), (12.376, 1.05),
    (12.383, 1.15), (12.390, 1.1), (12.397, 1.2), (12.404, 1.1), (12.411, 1.2), (12.418, 1.25),
    (12.425, 1.2), (12.432, 1.3), (12.438, 1.45), (12.444, 1.55), (12.451, 1.4), (12.458, 1.35),
    (12.465, 1.3), (12.472, 1.25), (12.479, 1.3), (12.486, 1.2), (12.493, 1.25), (12.500, 1.15),
    (12.507, 1.2), (12.514, 1.25), (12.521, 1.1), (12.528, 1.2), (12.535, 1.15), (12.542, 1.05),
    (12.549, 1.1), (12.556, 1.15), (12.563, 1.05), (12.570, 1.1), (12.577, 1.0), (12.584, 1.05),
    (12.591, 1.1), (12.598, 1.0), (12.605, 0.95), (12.612, 1.0), (12.618, 0.85), (12.625, 0.95),
    (12.632, 1.05), (12.639, 1.1), (12.646, 1.0), (12.653, 1.15), (12.660, 1.2), (12.667, 1.15),
    (12.674, 1.3), (12.681, 1.25), (12.688, 1.35), (12.695, 1.3), (12.702, 1.4), (12.709, 1.35),
    (12.716, 1.45), (12.723, 1.4), (12.730, 1.5), (12.737, 1.45), (12.744, 1.55), (12.751, 1.6),
    (12.757, 1.75), (12.763, 1.9), (12.768, 2.0),
    (13.185, 1.8), (13.191, 1.5), (13.197, 1.3), (13.203, 1.2), (13.210, 1.05), (13.217, 1.0),
    (13.224, 0.95), (13.231, 1.05), (13.238, 1.0), (13.245, 1.1), (13.252, 1.0), (13.259, 1.05),
    (13.266, 1.1), (13.273, 1.0), (13.280, 1.1), (13.287, 1.05), (13.294, 1.15), (13.301, 1.1),
    (13.308, 1.2), (13.315, 1.15), (13.322, 1.2), (13.329, 1.15), (13.336, 1.25), (13.343, 1.2),
    (13.350, 1.3), (13.357, 1.25), (13.364, 1.35), (13.371, 1.3), (13.378, 1.4), (13.385, 1.35),
    (13.392, 1.45), (13.399, 1.4), (13.406, 1.5), (13.413, 1.45), (13.420, 1.4), (13.427, 1.5),
    (13.434, 1.45), (13.441, 1.5), (13.448, 1.4), (13.455, 1.35), (13.462, 1.45), (13.469, 1.3),
    (13.476, 1.35), (13.483, 1.3), (13.490, 1.55), (13.496, 1.75), (13.503, 1.9), (13.510, 2.0),
    (13.517, 1.95), (13.524, 2.1), (13.531, 2.05), (13.538, 2.15), (13.545, 2.2), (13.552, 2.3),
    (13.559, 2.4), (13.566, 2.55), (13.573, 2.7), (13.580, 2.85), (13.587, 3.0), (13.594, 3.25),
    (13.601, 3.5), (13.608, 3.7), (13.615, 3.9), (13.622, 4.0), (13.629, 4.15), (13.636, 4.3),
    (13.643, 4.4), (13.650, 4.5), (13.657, 4.65), (13.663, 4.7), (13.669, 4.55), (13.676, 4.45),
    (13.683, 4.3), (13.690, 4.2), (13.697, 4.15), (13.704, 4.2), (13.711, 4.25), (13.718, 4.1),
    (13.725, 4.15), (13.732, 4.2), (13.739, 4.1), (13.746, 4.3), (13.752, 4.2), (13.758, 4.1),
    (14.189, 3.7), (14.194, 3.5), (14.200, 3.35), (14.206, 3.15), (14.212, 3.0), (14.218, 2.95),
    (14.224, 3.0), (14.230, 2.9), (14.236, 2.95), (14.242, 3.0), (14.248, 2.95), (14.254, 2.9),
    (14.260, 2.85), (14.266, 2.9), (14.272, 2.8), (14.278, 2.75), (14.284, 2.7), (14.290, 2.65),
    (14.296, 2.6), (14.302, 2.55), (14.308, 2.5), (14.314, 2.45), (14.320, 2.4), (14.326, 2.38),
    (14.332, 2.35), (14.338, 2.3), (14.344, 2.28), (14.350, 2.27), (14.356, 2.3), (14.362, 2.35),
    (14.368, 2.4), (14.374, 2.45), (14.380, 2.55), (14.386, 2.6), (14.392, 2.65), (14.398, 2.7),
    (14.404, 2.78), (14.410, 2.85), (14.416, 2.9), (14.422, 2.95), (14.428, 3.0), (14.434, 3.05),
    (14.440, 3.1), (14.446, 3.15), (14.452, 3.2), (14.458, 3.25), (14.464, 3.3), (14.470, 3.35),
    (14.476, 3.4), (14.482, 3.45), (14.488, 3.44), (14.494, 3.4), (14.500, 3.35), (14.506, 3.3),
    (14.512, 3.25), (14.518, 3.2), (14.524, 3.15), (14.530, 3.1), (14.536, 3.05), (14.542, 3.0),
    (14.548, 2.95), (14.554, 2.9), (14.560, 2.85), (14.566, 2.8), (14.572, 2.72), (14.578, 2.65),
    (14.584, 2.55), (14.590, 2.6), (14.596, 2.7), (14.602, 2.78), (14.608, 2.85), (14.614, 2.95),
    (14.620, 3.05), (14.626, 3.2), (14.632, 3.3), (14.638, 3.4), (14.644, 3.5), (14.650, 3.6),
    (14.656, 3.7), (14.662, 3.8), (14.668, 3.9), (14.674, 4.0), (14.680, 4.1), (14.686, 4.2),
    (14.692, 4.3), (14.698, 4.5), (14.704, 4.7), (14.710, 4.9), (14.716, 5.1), (14.722, 5.25),
    (14.727, 5.38), (14.733, 5.2), (14.738, 4.98), (14.744, 4.85), (14.749, 4.7), (14.755, 5.25),
    (14.761, 4.5), (14.766, 4.6),
]

o4_series = [o4_3deg, o4_6deg, o4_10deg, o4_18deg]
hcho_series = [hcho_3deg, hcho_6deg, hcho_10deg, hcho_18deg]

fig = plt.figure(figsize=(10.89, 8.22), dpi=100)
ax1 = fig.add_axes([0.1074, 0.5633, 0.8439, 0.3771])
ax2 = fig.add_axes([0.1074, 0.0608, 0.8439, 0.3759])


def style_axes(ax, ylim, ymajor, yminor):
    ax.set_xlim(11.946, 15.061)
    ax.set_ylim(*ylim)
    ax.set_xticks(day_ticks)
    ax.xaxis.set_minor_locator(MultipleLocator(0.25))
    ax.yaxis.set_major_locator(MultipleLocator(ymajor))
    if yminor:
        ax.yaxis.set_minor_locator(MultipleLocator(yminor))
    else:
        ax.yaxis.set_minor_locator(NullLocator())
    ax.grid(True, which='both', color='#b3b3b3', linewidth=2.3)
    ax.set_axisbelow(True)
    ax.tick_params(which='major', direction='in', length=7, width=1.8,
                   top=True, right=True, labelsize=17)
    ax.tick_params(axis='x', which='minor', length=0)
    ax.tick_params(axis='y', which='minor', direction='in', length=7, width=1.8, right=True)
    ax.tick_params(axis='x', pad=8)
    ax.tick_params(axis='y', pad=10)
    for sp in ax.spines.values():
        sp.set_linewidth(1.8)


style_axes(ax1, (-60, 8110), 2000, 1000)
style_axes(ax2, (-0.2, 12.2), 2, None)
# the legend hides the last day label of the upper panel
ax1.set_xticklabels(['12', '13', '14', ''])

top_ms = [3.8, 4.0, 4.0, 3.2]
bottom_ms = [5.0, 4.0, 4.0, 3.2]
for data, c, m, ms in zip(o4_series, colors, markers, top_ms):
    arr = np.array(data)
    ax1.plot(arr[:, 0], arr[:, 1], ls='none', marker=m, color=c, ms=ms, mew=0)
for data, c, m, ms in zip(hcho_series, colors, markers, bottom_ms):
    arr = np.array(data)
    ax2.plot(arr[:, 0], arr[:, 1], ls='none', marker=m, color=c, ms=ms, mew=0)

# titles sit left of centre in the original
ax1.text(0.372, 1.023, r'O$_4$ - DSCD 12.08.02 - 14.08.02', transform=ax1.transAxes,
         ha='center', va='baseline', fontsize=25.5)
ax2.text(0.372, 1.030, 'HCHO - DSCD 12.08.02 - 14.08.02', transform=ax2.transAxes,
         ha='center', va='baseline', fontsize=25.3)

ax1.set_ylabel(r'DSCD [10$^{40}$ molec$^{2}$/cm$^{5}$]', fontsize=16.5)
ax2.set_ylabel(r'DSCD [10$^{16}$ molec/cm$^{2}$]', fontsize=16.5)
ax1.yaxis.set_label_coords(-0.083, 0.52)
ax2.yaxis.set_label_coords(-0.083, 0.5)
ax1.set_xlabel('August 2002', fontsize=17)
ax2.set_xlabel('August 2002', fontsize=17)
ax1.xaxis.set_label_coords(0.5, -0.094)
ax2.xaxis.set_label_coords(0.5, -0.087)

handles = [Line2D([], [], ls='none', marker=m, color=c, ms=s, mew=0)
           for m, c, s in zip(markers, colors, [8, 6.5, 6.5, 5])]
leg = fig.legend(handles, labels, loc='upper left', bbox_to_anchor=(0.82, 0.5864),
                 frameon=True, fancybox=False, edgecolor='black', framealpha=1,
                 fontsize=16.5, handlelength=1.0, handletextpad=0.9, borderpad=0.4,
                 labelspacing=0.4, borderaxespad=0)
leg.get_frame().set_linewidth(1.0)

fig.savefig('out.png', dpi=100)
